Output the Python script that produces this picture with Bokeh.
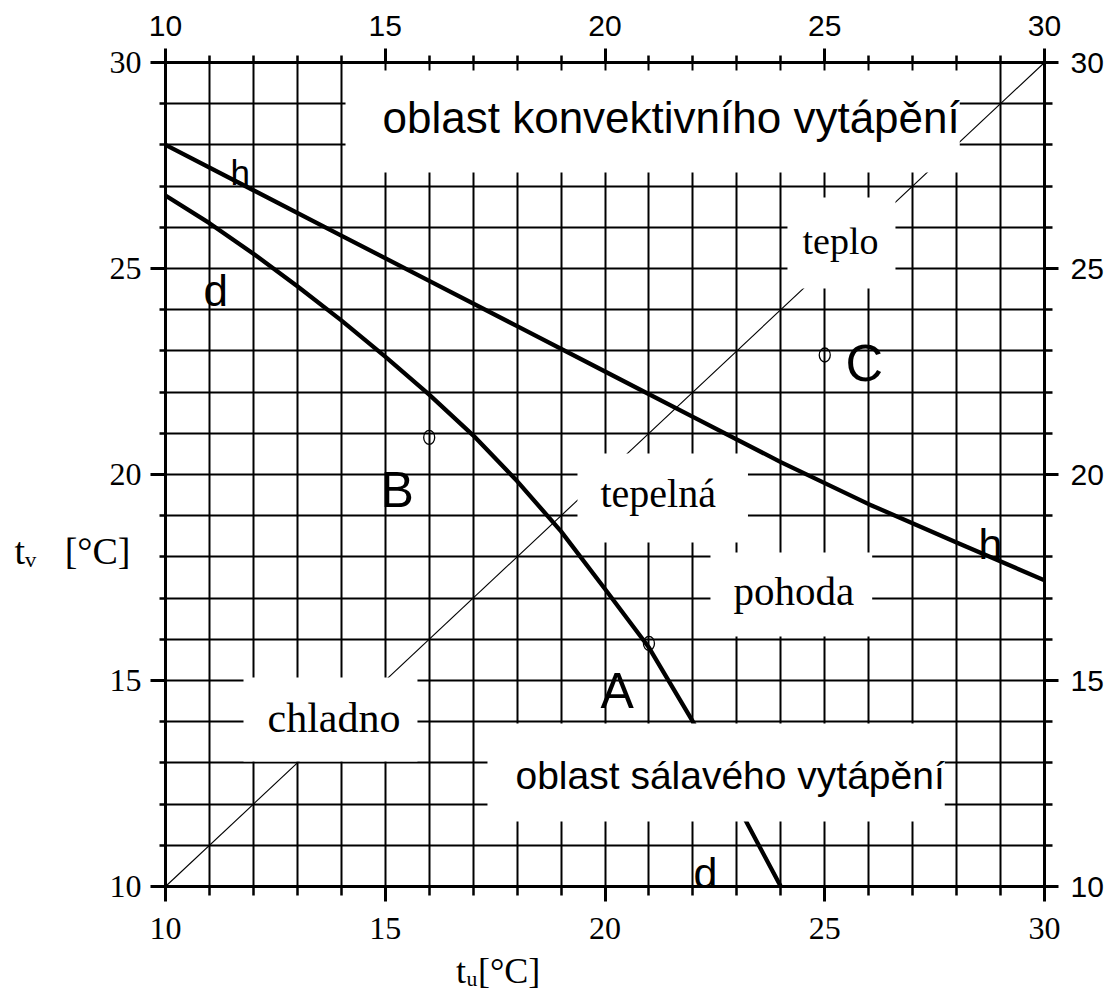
from bokeh.plotting import figure
from bokeh.models import Range1d, LinearAxis, FixedTicker, Label, Grid
from bokeh.embed import file_html
from bokeh.resources import INLINE

# ---------------- data ----------------
tick_values = [10, 15, 20, 25, 30]
grid_values = list(range(10, 31))

h_x = [10, 12, 14, 16, 18, 20, 22, 24, 26, 28, 30]
h_y = [28.0, 26.9, 25.8, 24.7, 23.6, 22.5, 21.4, 20.3, 19.28, 18.35, 17.43]

d_x = [10, 11, 12, 13, 14, 15, 16, 17, 18, 19, 20, 21, 22, 23, 24]
d_y = [26.77, 26.10, 25.36, 24.57, 23.74, 22.86, 21.94, 20.95, 19.84, 18.62,
       17.22, 15.80, 14.00, 12.00, 10.00]

diag_x = [10, 30]
diag_y = [10, 30]

point_names = ["A", "B", "C"]
point_x = [21.0, 16.0, 25.0]
point_y = [15.9, 20.9, 22.9]

region_texts = ["oblast konvektivního vytápění", "oblast sálavého vytápění",
                "teplo", "tepelná", "pohoda", "chladno"]

x_title = "tᵤ[°C]"
y_title = "tᵥ\u00a0\u00a0\u00a0[°C]"

SANS = "Liberation Sans"
SERIF = "Liberation Serif"

# ---------------- figure ----------------
p = figure(frame_width=879, frame_height=824,
           x_range=Range1d(10, 30), y_range=Range1d(10, 30),
           x_axis_type=None, y_axis_type=None,
           output_backend="svg", toolbar_location=None,
           min_border_left=165, min_border_right=65,
           min_border_top=62, min_border_bottom=110)
p.outline_line_color = None
p.background_fill_color = "white"
p.border_fill_color = "white"

for dim in (0, 1):
    g = Grid(dimension=dim, ticker=FixedTicker(ticks=grid_values))
    g.grid_line_color = "black"
    g.grid_line_width = 2
    p.add_layout(g)


def make_axis(font, size, tick_out, minor_out, standoff):
    ax = LinearAxis(ticker=FixedTicker(ticks=tick_values, minor_ticks=grid_values))
    ax.axis_line_width = 3
    ax.axis_line_color = "black"
    ax.major_tick_line_width = 3
    ax.minor_tick_line_width = 2.5
    ax.major_tick_line_color = "black"
    ax.minor_tick_line_color = "black"
    ax.major_tick_out = tick_out
    ax.major_tick_in = 0
    ax.minor_tick_out = minor_out
    ax.minor_tick_in = 0
    ax.major_label_text_font = font
    ax.major_label_text_font_size = f"{size}px"
    ax.major_label_text_color = "black"
    ax.major_label_standoff = standoff
    return ax


def title_axis(pos, text, size, standoff):
    ax = LinearAxis(ticker=FixedTicker(ticks=[pos], minor_ticks=[]),
                    major_label_overrides={pos: text})
    ax.axis_line_color = None
    ax.major_tick_line_color = None
    ax.minor_tick_line_color = None
    ax.major_tick_out = 0
    ax.major_tick_in = 0
    ax.minor_tick_out = 0
    ax.minor_tick_in = 0
    ax.major_label_text_font = SERIF
    ax.major_label_text_font_size = f"{size}px"
    ax.major_label_text_color = "black"
    ax.major_label_standoff = standoff
    return ax


p.add_layout(make_axis(SERIF, 32, 15, 6, 9), "left")
p.add_layout(make_axis(SERIF, 32, 15, 9, 16), "below")
p.add_layout(make_axis(SANS, 30, 14, 7, 13), "above")
p.add_layout(make_axis(SANS, 30, 14, 8, 12), "right")

# axis titles as outer label-only axes
p.add_layout(title_axis(18.15, y_title, 38, -24), "left")
p.add_layout(title_axis(17.57, x_title, 36, 9), "below")

# ---------------- glyphs ----------------
p.line(diag_x, diag_y, line_color="black", line_width=1.1)
p.line(h_x, h_y, line_color="black", line_width=4.3, line_join="round")
p.line(d_x, d_y, line_color="black", line_width=4.3, line_join="round")
p.ellipse(x=point_x, y=point_y, width=11, height=14,
          width_units="screen", height_units="screen",
          fill_color=None, line_color="black", line_width=1.3)

# ---------------- region labels (white boxes) ----------------
# anchor = top-left corner of the white box; padding = (left, right, top, bottom)
region_layout = [
    (14.096, 29.806, SANS, 44, (37, 0, 23, 30)),
    (17.326, 13.956, SANS, 39, (28, 0, 30, 25)),
    (24.152, 26.723, SERIF, 38, (15, 17, 22, 27)),
    (19.374, 20.510, SERIF, 40, (23, 32, 18, 26)),
    (22.400, 18.107, SERIF, 41, (23, 18, 16, 22)),
    (11.775, 15.073, SERIF, 42, (24, 17, 18, 20)),
]
for text, (lx, ly, font, size, pad) in zip(region_texts, region_layout):
    p.add_layout(Label(x=lx, y=ly, text=text, text_font=font,
                       text_font_size=f"{size}px", text_color="black",
                       text_align="left", text_baseline="top",
                       background_fill_color="white", background_fill_alpha=1.0,
                       padding=pad))

# ---------------- point letters ----------------
letter_layout = {"A": (19.898, 14.757, 50), "B": (14.892, 19.612, 50), "C": (25.472, 22.718, 52)}
for name in point_names:
    lx, ly, size = letter_layout[name]
    p.add_layout(Label(x=lx, y=ly, text=name, text_font=SANS,
                       text_font_size=f"{size}px", text_color="black",
                       text_align="left", text_baseline="alphabetic"))

# ---------------- curve letters ----------------
curve_label_layout = [
    ("h", 11.479, 27.330, 35), ("h", 28.498, 18.325, 43),
    ("d", 10.865, 24.466, 44), ("d", 22.014, 10.316, 43),
]
for name, lx, ly, size in curve_label_layout:
    p.add_layout(Label(x=lx, y=ly, text=name, text_font=SANS,
                       text_font_size=f"{size}px", text_color="black",
                       text_align="left", text_baseline="alphabetic"))

open("out.html", "w").write(file_html(p, INLINE))
